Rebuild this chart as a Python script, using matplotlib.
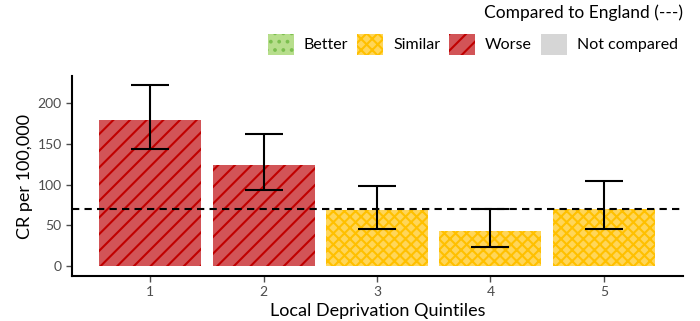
import matplotlib.pyplot as plt
from matplotlib.patches import Patch

# data
quintiles = ["1", "2", "3", "4", "5"]
rate = [179, 124, 69, 43, 70]
lower_ci = [144, 93, 45, 23, 45]
upper_ci = [222, 162, 98, 70, 104]
comparison = ["Worse", "Worse", "Similar", "Similar", "Similar"]
england_value = 70

styles = {
    "Better": dict(face="#b7de8c", hatch_col="#7cbf4f", hatch=".."),
    "Similar": dict(face="#ffd659", hatch_col="#ffc000", hatch="xxx"),
    "Worse": dict(face="#d25457", hatch_col="#c00000", hatch="//"),
    "Not compared": dict(face="#d6d6d6", hatch_col="#d6d6d6", hatch=None),
}

plt.rcParams['font.family'] = ['Lato', 'DejaVu Sans']
plt.rcParams['hatch.linewidth'] = 1.5

fig = plt.figure(figsize=(7, 3.21), dpi=100)
ax = fig.add_axes([0.103, 0.140, 0.873, 0.623])

x = list(range(1, len(quintiles) + 1))
for xi, val, comp in zip(x, rate, comparison):
    st = styles[comp]
    ax.bar(xi, val, width=0.9, color=st["face"], edgecolor=st["hatch_col"],
           hatch=st["hatch"], linewidth=0, zorder=1)

err_lo = [r - lo for r, lo in zip(rate, lower_ci)]
err_hi = [hi - r for r, hi in zip(rate, upper_ci)]
ax.errorbar(x, rate, yerr=[err_lo, err_hi], fmt='none', ecolor='black',
            elinewidth=1.5, capsize=13.7, capthick=1.5, zorder=3)

ax.axhline(england_value, color='black', linestyle=(0, (3.5, 2.5)), linewidth=1.5, zorder=2)

ax.set_xlim(0.31, 5.7)
ax.set_ylim(-12.3, 233.5)
ax.set_xticks(x)
ax.set_xticklabels(quintiles)
ax.set_yticks([0, 50, 100, 150, 200])

for side in ['top', 'right']:
    ax.spines[side].set_visible(False)
for side in ['left', 'bottom']:
    ax.spines[side].set_linewidth(1.5)
    ax.spines[side].set_color('black')
ax.tick_params(colors='#4d4d4d', labelsize=10, length=4, width=1)

ax.set_xlabel("Local Deprivation Quintiles", fontsize=13, color='black', labelpad=3)
ax.set_ylabel("CR per 100,000", fontsize=13, color='black', labelpad=3)

handles = [Patch(facecolor=styles[k]["face"], edgecolor=styles[k]["hatch_col"],
                 hatch=styles[k]["hatch"], linewidth=0, label=k)
           for k in ["Better", "Similar", "Worse", "Not compared"]]
fig.legend(handles=handles, ncol=4, loc='upper right', bbox_to_anchor=(0.977, 0.915),
           frameon=False, fontsize=11.5, handlelength=1.65, handleheight=1.65,
           handletextpad=0.6, columnspacing=0.55, borderaxespad=0)
fig.text(0.976, 0.985, "Compared to England (---)", ha='right', va='top', fontsize=12.5)

fig.savefig("out.png", dpi=100)
